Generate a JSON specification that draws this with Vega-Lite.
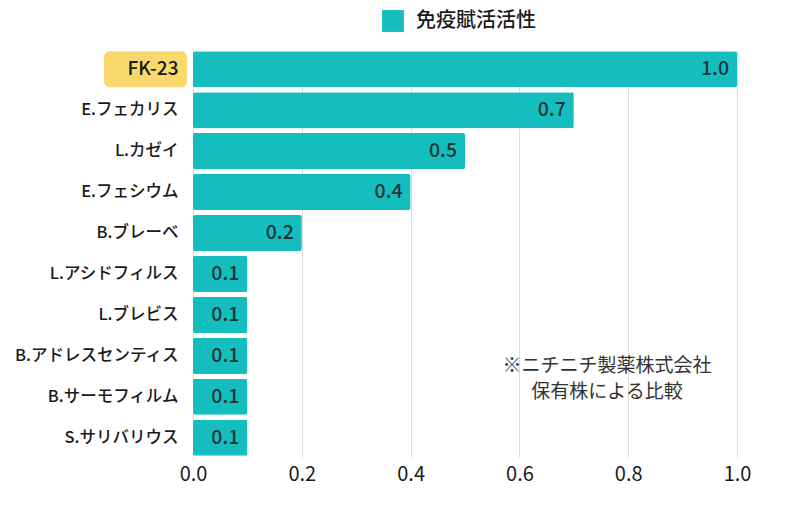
{
  "$schema": "https://vega.github.io/schema/vega-lite/v6.json",
  "width": 544,
  "height": 407,
  "autosize": {"type": "none"},
  "padding": {"left": 193, "top": 50, "right": 63, "bottom": 49},
  "background": "white",
  "config": {
    "font": "Noto Sans CJK JP",
    "view": {"stroke": null}
  },
  "data": {
    "values": [
      {"name": "FK-23", "value": 1.0, "series": "免疫賦活活性"},
      {"name": "E.フェカリス", "value": 0.7, "series": "免疫賦活活性"},
      {"name": "L.カゼイ", "value": 0.5, "series": "免疫賦活活性"},
      {"name": "E.フェシウム", "value": 0.4, "series": "免疫賦活活性"},
      {"name": "B.ブレーベ", "value": 0.2, "series": "免疫賦活活性"},
      {"name": "L.アシドフィルス", "value": 0.1, "series": "免疫賦活活性"},
      {"name": "L.ブレビス", "value": 0.1, "series": "免疫賦活活性"},
      {"name": "B.アドレスセンティス", "value": 0.1, "series": "免疫賦活活性"},
      {"name": "B.サーモフィルム", "value": 0.1, "series": "免疫賦活活性"},
      {"name": "S.サリバリウス", "value": 0.1, "series": "免疫賦活活性"}
    ]
  },
  "encoding": {
    "y": {
      "field": "name",
      "type": "nominal",
      "sort": null,
      "scale": {"paddingInner": 0.12, "paddingOuter": 0.03},
      "axis": {
        "title": null,
        "domain": false,
        "ticks": false,
        "labelPadding": 15,
        "labelFontSize": {"condition": {"test": "datum.value === 'FK-23'", "value": 19}, "value": 16.5},
        "labelFontWeight": 500,
        "labelColor": "#1a1a1a",
        "zindex": 1
      }
    }
  },
  "layer": [
    {
      "mark": {"type": "bar", "cornerRadius": 2},
      "encoding": {
        "x": {
          "field": "value",
          "type": "quantitative",
          "scale": {"domain": [0, 1], "nice": false},
          "axis": {
            "title": null,
            "domain": false,
            "ticks": false,
            "values": [0, 0.2, 0.4, 0.6, 0.8, 1.0],
            "format": ".1f",
            "labelFlush": false,
            "labelFontSize": 20,
            "labelPadding": 7,
            "labelColor": "#1a1a1a",
            "gridColor": "#dddddd",
            "gridWidth": 1
          }
        },
        "color": {
          "field": "series",
          "type": "nominal",
          "scale": {"range": ["#14BEBF"]},
          "legend": {
            "title": null,
            "orient": "none",
            "legendX": 189,
            "legendY": -40,
            "padding": 0,
            "symbolType": "square",
            "symbolSize": 480,
            "symbolStrokeWidth": 0,
            "symbolOpacity": 1,
            "labelFontSize": 20,
            "labelFontWeight": 500,
            "labelColor": "#1a1a1a",
            "labelOffset": 12
          }
        }
      }
    },
    {
      "transform": [{"filter": "datum.name === 'FK-23'"}],
      "mark": {"type": "rect", "color": "#F8DA6C", "cornerRadius": 6},
      "encoding": {
        "x": {"datum": -0.1636},
        "x2": {"datum": -0.011}
      }
    },
    {
      "mark": {"type": "text", "align": "right", "dx": -8, "fontSize": 19.5, "fontWeight": 500, "color": "#1c3536"},
      "encoding": {
        "x": {"field": "value", "type": "quantitative"},
        "text": {"field": "value", "type": "quantitative", "format": ".1f"}
      }
    },
    {
      "data": {"values": [{"note": ["※ニチニチ製薬株式会社", "保有株による比較"]}]},
      "mark": {"type": "text", "align": "center", "baseline": "middle", "fontSize": 19, "lineHeight": 26, "color": "#333333", "dy": 10},
      "encoding": {
        "x": {"datum": 0.761},
        "y": {"datum": "B.アドレスセンティス"},
        "text": {"field": "note"}
      }
    }
  ]
}
